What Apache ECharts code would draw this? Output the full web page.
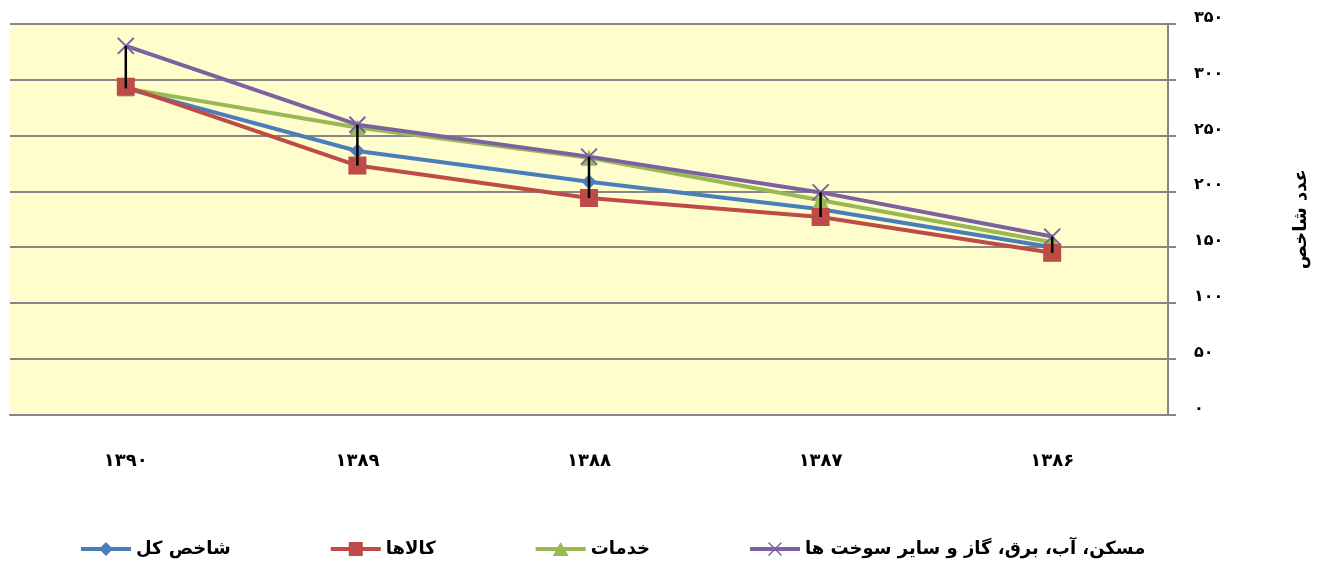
<!DOCTYPE html>
<html>
<head>
<meta charset="utf-8">
<script src="https://cdn.jsdelivr.net/npm/echarts@6/dist/echarts.min.js"></script>
<style>
html,body{margin:0;padding:0;background:#fff;}
#c{width:1321px;height:567px;}
</style>
</head>
<body>
<div id="c"></div>
<script>
// ---- data ----
const categories = ['۱۳۹۰', '۱۳۸۹', '۱۳۸۸', '۱۳۸۷', '۱۳۸۶'];
const seriesNames = ['شاخص کل', 'کالاها', 'خدمات', 'مسکن، آب، برق، گاز و سایر سوخت ها'];
const totalIndex = [292, 236, 208.5, 184, 150];
const goods = [293.5, 223, 194, 177, 145];
const services = [292, 257, 230, 192, 154.5];
const housing = [330, 259.5, 231, 199, 159.5];
const yTicks = [0, 50, 100, 150, 200, 250, 300, 350];
const yAxisName = 'عدد شاخص';

const colors = ['#4A7EBB', '#BE4B48', '#98B954', '#7D60A0'];

const faDigits = '۰۱۲۳۴۵۶۷۸۹';
function toFa(n) { return String(n).replace(/[0-9]/g, d => faDigits[+d]); }

const allSeries = [totalIndex, goods, services, housing];
const hiLo = categories.map((c, i) => {
  const vals = allSeries.map(s => s[i]);
  return [i, Math.min(...vals), Math.max(...vals)];
});

// legend icons: thick line + marker, drawn in a 50x14 box
const lineBar = 'M0,5L50,5L50,9L0,9Z';
const legendIcons = [
  'path://' + lineBar + 'M25,0L32,7L25,14L18,7Z',
  'path://' + lineBar + 'M18,0L32,0L32,14L18,14Z',
  'path://' + lineBar + 'M25,0L33,14L17,14Z',
  'path://' + lineBar + 'M18,1L19,0L32,13L31,14ZM31,0L32,1L19,14L18,13Z'
];

const FONT = '"DejaVu Sans", sans-serif';
const chart = echarts.init(document.getElementById('c'));
chart.setOption({
  animation: false,
  backgroundColor: '#ffffff',
  grid: { left: 10, right: 153, top: 23.5, bottom: 152, show: true, backgroundColor: '#FFFDCC', borderWidth: 0 },
  legend: {
    bottom: 4,
    left: 76,
    itemGap: 100,
    itemWidth: 50,
    itemHeight: 14,
    data: seriesNames.map((n, i) => ({
      name: n, icon: legendIcons[i],
      itemStyle: { color: colors[i], borderWidth: 0 }
    })),
    textStyle: { fontFamily: FONT, fontWeight: 'bold', fontSize: 18, color: '#000' }
  },
  xAxis: {
    type: 'category',
    data: categories,
    boundaryGap: true,
    axisLine: { lineStyle: { color: '#868686', width: 2 } },
    axisTick: { show: false },
    axisLabel: { margin: 37, fontFamily: FONT, fontWeight: 'bold', fontSize: 18, color: '#000' },
    splitLine: { show: false }
  },
  yAxis: {
    type: 'value',
    position: 'right',
    min: 0, max: 350, interval: 50,
    name: yAxisName,
    nameLocation: 'middle',
    nameRotate: 90,
    nameGap: 124,
    nameTextStyle: { fontFamily: FONT, fontWeight: 'bold', fontSize: 18, color: '#000' },
    axisLine: { show: true, lineStyle: { color: '#868686', width: 2 } },
    axisTick: { show: true, inside: false, length: 8, lineStyle: { color: '#868686', width: 2 } },
    axisLabel: {
      margin: 26,
      verticalAlign: 'bottom',
      lineHeight: 12,
      fontFamily: FONT, fontWeight: 'bold', fontSize: 16, color: '#000',
      formatter: v => yTicks.includes(v) ? toFa(v) : ''
    },
    splitLine: { show: true, lineStyle: { color: '#868686', width: 2 } }
  },
  series: [
    {
      name: seriesNames[0], type: 'line', data: totalIndex,
      symbol: 'diamond', symbolSize: 15,
      itemStyle: { color: colors[0] },
      lineStyle: { color: colors[0], width: 4 }, z: 2
    },
    {
      name: seriesNames[1], type: 'line', data: goods,
      symbol: 'rect', symbolSize: 18,
      itemStyle: { color: colors[1] },
      lineStyle: { color: colors[1], width: 4 }, z: 3
    },
    {
      name: seriesNames[2], type: 'line', data: services,
      symbol: 'triangle', symbolSize: 16,
      itemStyle: { color: colors[2] },
      lineStyle: { color: colors[2], width: 4 }, z: 2
    },
    {
      name: seriesNames[3], type: 'line', data: housing,
      symbol: 'path://M0,0L10,10M10,0L0,10', symbolSize: 16,
      itemStyle: { color: 'none', borderColor: colors[3], borderWidth: 2 },
      lineStyle: { color: colors[3], width: 4 }, z: 4
    },
    {
      type: 'custom',
      data: hiLo,
      z: 10,
      silent: true,
      renderItem: function (params, api) {
        const p1 = api.coord([api.value(0), api.value(1)]);
        const p2 = api.coord([api.value(0), api.value(2)]);
        return {
          type: 'line',
          shape: { x1: p1[0], y1: p1[1], x2: p2[0], y2: p2[1] },
          style: { stroke: '#000', lineWidth: 2.5 }
        };
      }
    }
  ]
});
</script>
</body>
</html>
